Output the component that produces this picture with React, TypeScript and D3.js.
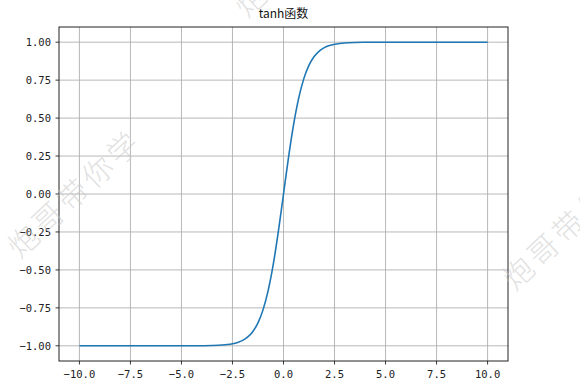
import React from "react";
import * as d3 from "d3";

const xs = [-10, -9, -8, -7, -6, -5, -4.5, -4, -3.5, -3, -2.75, -2.5, -2.25, -2, -1.75, -1.5, -1.25, -1, -0.75, -0.5, -0.25, 0, 0.25, 0.5, 0.75, 1, 1.25, 1.5, 1.75, 2, 2.25, 2.5, 2.75, 3, 3.5, 4, 4.5, 5, 6, 7, 8, 9, 10];
const ys = [-1.0, -1.0, -1.0, -1.0, -1.0, -0.9999, -0.9998, -0.9993, -0.9982, -0.9951, -0.9918, -0.9866, -0.978, -0.964, -0.9414, -0.9051, -0.8483, -0.7616, -0.6351, -0.4621, -0.2449, 0, 0.2449, 0.4621, 0.6351, 0.7616, 0.8483, 0.9051, 0.9414, 0.964, 0.978, 0.9866, 0.9918, 0.9951, 0.9982, 0.9993, 0.9998, 0.9999, 1.0, 1.0, 1.0, 1.0, 1.0];
const xTicks = [-10, -7.5, -5, -2.5, 0, 2.5, 5, 7.5, 10];
const yTicks = [-1, -0.75, -0.5, -0.25, 0, 0.25, 0.5, 0.75, 1];
const title = "tanh函数";
const watermark = "炮哥带你学";

const W = 580, H = 384;
const L = 59, R = 508, T = 27, B = 361;

function fmt(v: number, d: number) {
  const s = Math.abs(v).toFixed(d);
  return { neg: v < 0, s };
}

export default function App() {
  const x = d3.scaleLinear().domain([-11, 11]).range([L, R]);
  const y = d3.scaleLinear().domain([-1.1, 1.1]).range([B, T]);
  const pts = xs.map((v, i) => [v, ys[i]] as [number, number]);
  const line = d3.line<[number, number]>().x(d => x(d[0])).y(d => y(d[1])).curve(d3.curveMonotoneX);
  const mono = "'DejaVu Sans Mono', monospace";
  const cjk = "'Noto Sans CJK SC', sans-serif";
  const marks = [
    { cx: 73, cy: 192 },
    { cx: 568, cy: 224 },
    { cx: 300, cy: -49 },
  ];
  return (
    <svg width={W} height={H} style={{ position: "absolute", left: 0, top: 0, background: "#fff" }}>
      <rect x={0} y={0} width={W} height={H} fill="#fff" />
      <g>
        {xTicks.map(t => (
          <line key={"gx" + t} x1={x(t)} x2={x(t)} y1={T} y2={B} stroke="#b0b0b0" strokeWidth={0.9} />
        ))}
        {yTicks.map(t => (
          <line key={"gy" + t} x1={L} x2={R} y1={y(t)} y2={y(t)} stroke="#b0b0b0" strokeWidth={0.9} />
        ))}
      </g>
      <path d={line(pts) || ""} fill="none" stroke="#1f77b4" strokeWidth={1.6} />
      <rect x={L} y={T} width={R - L} height={B - T} fill="none" stroke="#222" strokeWidth={1} />
      {xTicks.map(t => {
        const f = fmt(t, 1);
        return (
          <g key={"tx" + t}>
            <line x1={x(t)} x2={x(t)} y1={B} y2={B + 3.5} stroke="#222" strokeWidth={0.9} />
            <text x={x(t)} y={B + 17} textAnchor="middle" fontSize={10.5} fill="#222" fontFamily={mono}>
              {f.neg ? "−" : ""}{f.s}
            </text>
          </g>
        );
      })}
      {yTicks.map(t => {
        const f = fmt(t, 2);
        return (
          <g key={"ty" + t}>
            <line x1={L - 3.5} x2={L} y1={y(t)} y2={y(t)} stroke="#222" strokeWidth={0.9} />
            <text x={L - 8} y={y(t) + 4} textAnchor="end" fontSize={10.5} fill="#222" fontFamily={mono}>
              {f.neg ? "−" : ""}{f.s}
            </text>
          </g>
        );
      })}
      <text x={(L + R) / 2} y={18} textAnchor="middle" fontSize={12} fill="#111" fontFamily={cjk}>{title}</text>
      {marks.map((m, i) => (
        <text key={"wm" + i} x={m.cx} y={m.cy} textAnchor="middle" dominantBaseline="central" fontSize={30} letterSpacing={4}
          fill="#c8c8c8" fillOpacity={0.55} fontFamily={cjk} fontWeight={300}
          transform={`rotate(-43 ${m.cx} ${m.cy})`}>{watermark}</text>
      ))}
    </svg>
  );
}
